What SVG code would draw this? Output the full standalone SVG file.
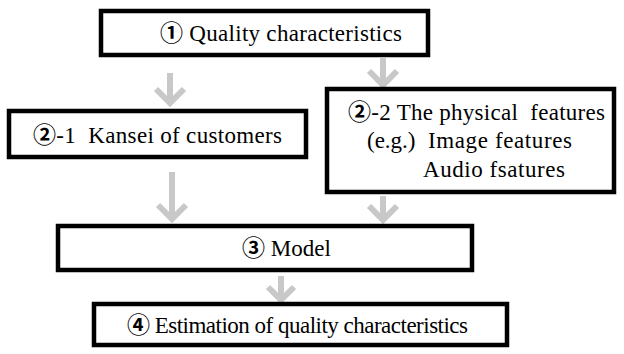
<svg xmlns="http://www.w3.org/2000/svg" width="624" height="354" viewBox="0 0 624 354">
<style>
.box{fill:#fff;stroke:#000;stroke-width:4.5}
.arr{fill:none;stroke:#c8c8c8;stroke-width:6;stroke-linejoin:miter}
.t{font-family:'Liberation Serif','Times New Roman',serif;font-size:23px;fill:#000}
.c{font-family:'Noto Sans CJK JP','DejaVu Sans',sans-serif;font-weight:bold}
</style>
<rect width="624" height="354" fill="#fff"/>
<g id="connectors">
<path class="arr" d="M170 73V103M156 89L170 103L184 89"/>
<path class="arr" d="M383 58V85M369 71L383 85L397 71"/>
<path class="arr" d="M172 172V219M158 205L172 219L186 205"/>
<path class="arr" d="M383 196V220M369 206L383 220L397 206"/>
<path class="arr" d="M281 276V300M268 287L281 300L294 287"/>
</g>
<g id="n1">
<rect class="box" x="101" y="11" width="327" height="44"/>
<text class="t" x="160" y="41" textLength="242"><tspan class="c">①</tspan> Quality characteristics</text>
</g>
<g id="n2-1">
<rect class="box" x="9" y="111" width="297" height="46"/>
<text class="t" x="33" y="143" textLength="249" xml:space="preserve"><tspan class="c">②</tspan>-1  Kansei of customers</text>
</g>
<g id="n2-2">
<rect class="box" x="327" y="89" width="287" height="103"/>
<text class="t" x="348" y="120" textLength="257" xml:space="preserve"><tspan class="c">②</tspan>-2 The physical  features</text>
<text class="t" x="367" y="148" font-size="20">(e.g.)</text>
<text class="t" x="428" y="148" textLength="144">Image features</text>
<text class="t" x="423" y="177" textLength="142">Audio fsatures</text>
</g>
<g id="n3">
<rect class="box" x="58" y="226" width="414" height="44"/>
<text class="t" x="242" y="256" font-size="19"><tspan class="c">③</tspan> Model</text>
</g>
<g id="n4">
<rect class="box" x="94" y="304" width="413" height="41"/>
<text class="t" x="127" y="333" font-size="22" textLength="341"><tspan class="c">④</tspan> Estimation of quality characteristics</text>
</g>
</svg>
